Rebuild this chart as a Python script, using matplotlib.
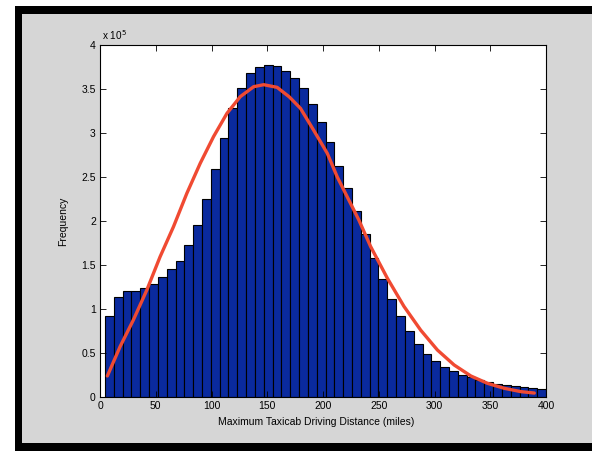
import numpy as np
import matplotlib
matplotlib.use("Agg")
import matplotlib.pyplot as plt
from matplotlib.patches import Rectangle
from matplotlib.ticker import FuncFormatter

plt.rcParams['font.family'] = ['Liberation Sans', 'DejaVu Sans']

# histogram counts (x 1e5), 50 bins
counts = [0.92, 1.133, 1.20, 1.21, 1.235, 1.28, 1.36, 1.45, 1.55, 1.73,
          1.96, 2.25, 2.59, 2.94, 3.28, 3.51, 3.685, 3.754, 3.77, 3.758,
          3.71, 3.625, 3.51, 3.33, 3.12, 2.90, 2.63, 2.37, 2.11, 1.85,
          1.58, 1.337, 1.117, 0.92, 0.746, 0.606, 0.489, 0.405, 0.337, 0.292,
          0.25, 0.224, 0.193, 0.17, 0.151, 0.14, 0.128, 0.117, 0.106, 0.091]
bin_lo = 4.5
bin_hi = 400

# fitted curve (x 1e5)
fit_x = [6.6, 18.0, 29.9, 42.0, 53.9, 65.9, 77.9, 89.9, 101.8, 113.9,
         125.8, 137.8, 146.8, 158.8, 169.8, 179.8, 191.7, 203.8, 212.8, 224.7,
         232.2, 242.7, 257.7, 272.6, 287.6, 302.6, 317.6, 332.6, 347.6, 362.5,
         377.5, 389.5]
fit_y = [0.239, 0.572, 0.875, 1.216, 1.594, 1.935, 2.315, 2.656, 2.958, 3.224,
         3.413, 3.526, 3.549, 3.519, 3.41, 3.28, 3.03, 2.77, 2.50, 2.20,
         2.01, 1.71, 1.35, 1.03, 0.76, 0.534, 0.364, 0.239, 0.155, 0.099,
         0.061, 0.045]

counts = np.array(counts) * 1e5
fit_y = np.array(fit_y) * 1e5
edges = np.linspace(bin_lo, bin_hi, len(counts) + 1)

fig = plt.figure(figsize=(5.92, 4.51), dpi=100, facecolor='white')
# black frame and grey window background
fig.patches.append(Rectangle((15/592, 0), 1, 1 - 6/451, transform=fig.transFigure,
                             facecolor='black', edgecolor='none', zorder=-2))
fig.patches.append(Rectangle((22/592, 8/451), 1, 1 - 22/451, transform=fig.transFigure,
                             facecolor='#d6d6d6', edgecolor='none', zorder=-1))

ax = fig.add_axes([100/592, 1 - 397/451, 446/592, 352/451])
ax.bar(edges[:-1], counts, width=np.diff(edges), align='edge',
       color='#0a2a9e', edgecolor='black', linewidth=0.8)
ax.plot(fit_x, fit_y, color='#f04a32', linewidth=2.4,
        solid_joinstyle='round', solid_capstyle='round')

ax.set_xlim(0, 400)
ax.set_ylim(0, 4e5)
ax.set_xticks(np.arange(0, 401, 50))
ax.set_yticks(np.arange(0, 4.01e5, 0.5e5))
ax.yaxis.set_major_formatter(FuncFormatter(lambda v, p: '%g' % (v / 1e5)))
ax.tick_params(direction='in', length=4, width=0.6, labelsize=7.5,
               top=True, right=True, pad=3)
for s in ax.spines.values():
    s.set_linewidth(0.8)

ax.text(0.005, 1.008, r'x 10$^5$', transform=ax.transAxes, fontsize=7.2,
        va='bottom', ha='left')
ax.set_ylabel('Frequency', fontsize=7.5)
ax.yaxis.set_label_coords((68 - 100) / 446, 0.5)
fig.text(316/592, 1 - 422/451, 'Maximum Taxicab Driving Distance (miles)',
         fontsize=7.5, ha='center', va='center')

fig.savefig('out.png', dpi=100, facecolor=fig.get_facecolor())
